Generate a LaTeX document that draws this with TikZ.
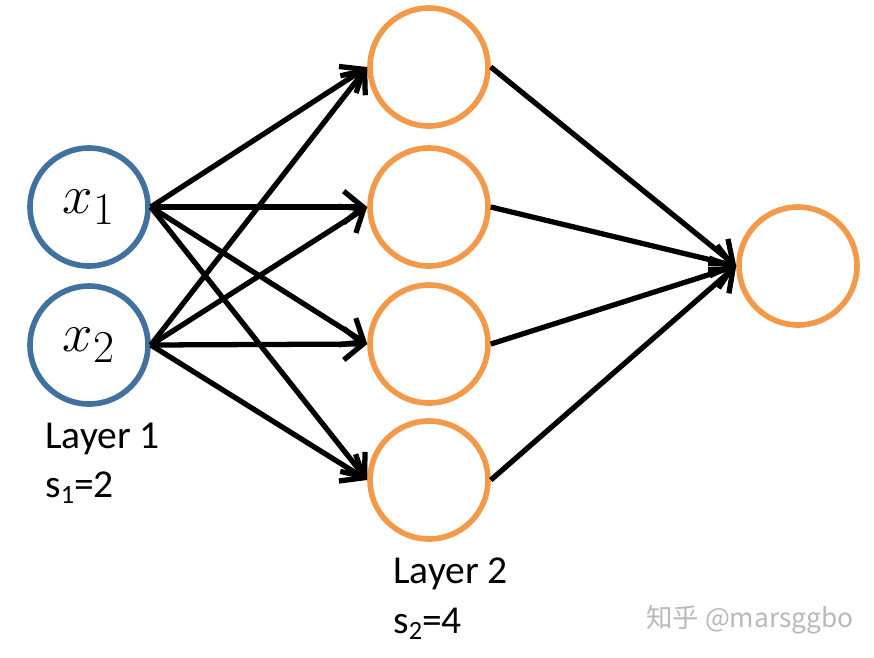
\documentclass[tikz,border=0pt]{standalone}
\usepackage{fontspec}
\setmainfont{Carlito}
\newfontfamily\cjk{Noto Sans CJK SC}
\usepackage{xcolor}
\usetikzlibrary{arrows.meta}
\definecolor{azulin}{RGB}{65,113,158}
\definecolor{laranja}{RGB}{242,153,74}
\newcommand{\indice}[1]{\raisebox{-0.35ex}{\fontsize{15}{15}\selectfont #1}}
\newcommand{\entrada}[1]{\scalebox{1.25}{$#1$}}
\tikzset{
  neuronio/.style={circle, draw=#1, line width=3.2pt, minimum size=2.36cm, inner sep=0pt, font=\fontsize{24.88}{28}\selectfont},
  seta/.style={-{Straight Barb[length=11pt,width=18pt]}, line width=3pt},
  rotulo/.style={anchor=base west, inner sep=0pt, font=\fontsize{22.5}{24}\selectfont},
}

\begin{document}
\begin{tikzpicture}[x=0.02cm, y=-0.02cm]
  \useasboundingbox (0,0) rectangle (874,657);
  \node[neuronio=azulin] (x1) at (89,207) {\entrada{x_1}};
  \node[neuronio=azulin] (x2) at (89,345) {\entrada{x_2}};
  \node[neuronio=laranja] (h1) at (429,67) {};
  \node[neuronio=laranja] (h2) at (429,207) {};
  \node[neuronio=laranja] (h3) at (429,344) {};
  \node[neuronio=laranja] (h4) at (429,480) {};
  \node[neuronio=laranja] (out) at (798,266) {};
  \node[rotulo] (l1) at (45,448) {Layer 1};
  \node[rotulo] (s1) at (45,497) {s\indice{1}=2};
  \node[rotulo] (l2) at (393,583) {Layer 2};
  \node[rotulo] (s2) at (393,633) {s\indice{2}=4};
  \node[font=\cjk\fontsize{15}{18}\selectfont, text=gray!55] (marca) at (750,620) {知乎 @marsggbo};
  \foreach \i in {x1,x2}
    \foreach \j in {h1,h2,h3,h4}
      \draw[seta] (\i.east) -- (\j.west);
  \foreach \j in {h1,h2,h3,h4}
    \draw[seta] (\j.east) -- (out.west);
\end{tikzpicture}
\end{document}
